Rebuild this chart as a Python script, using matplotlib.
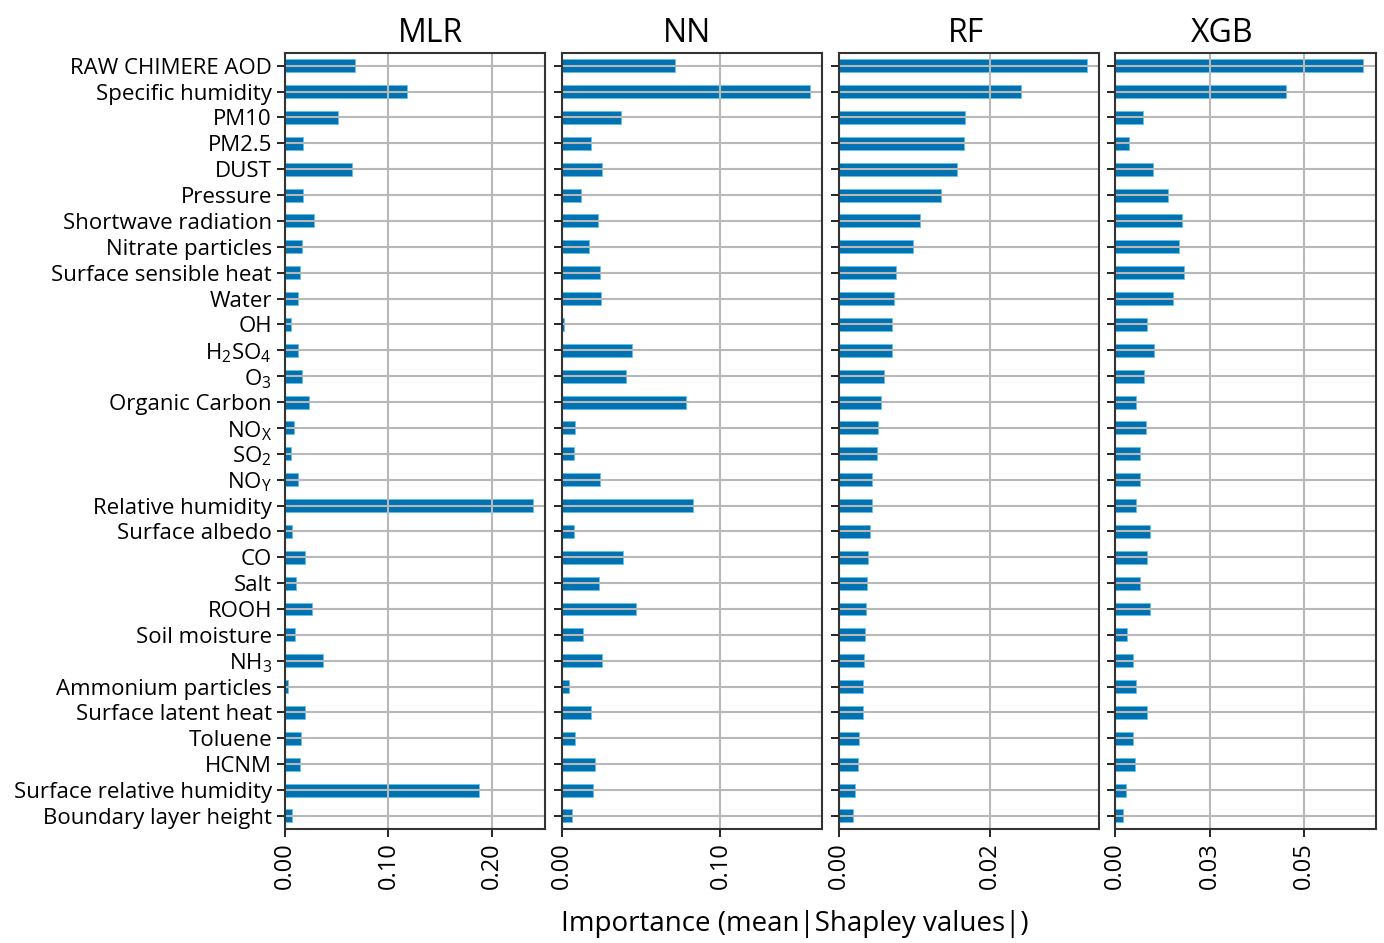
import matplotlib
matplotlib.use("Agg")
import matplotlib.pyplot as plt
from matplotlib.ticker import FormatStrFormatter

plt.rcParams['font.family'] = ['Open Sans', 'DejaVu Sans']
plt.rcParams['mathtext.fontset'] = 'custom'
plt.rcParams['mathtext.rm'] = 'Open Sans'
plt.rcParams['mathtext.it'] = 'Open Sans'

features = ["RAW CHIMERE AOD", "Specific humidity", "PM10", "PM2.5", "DUST",
            "Pressure", "Shortwave radiation", "Nitrate particles",
            "Surface sensible heat", "Water", "OH", "H$_2$SO$_4$", "O$_3$",
            "Organic Carbon", r"NO$_\mathrm{X}$", "SO$_2$", r"NO$_\mathrm{Y}$",
            "Relative humidity", "Surface albedo", "CO", "Salt", "ROOH",
            "Soil moisture", "NH$_3$", "Ammonium particles", "Surface latent heat",
            "Toluene", "HCNM", "Surface relative humidity", "Boundary layer height"]

mlr = [0.0676, 0.118, 0.0508, 0.0175, 0.0644, 0.0175, 0.0275, 0.0168, 0.0149, 0.0129,
       0.0055, 0.0120, 0.0162, 0.0236, 0.0087, 0.0055, 0.0123, 0.240, 0.0068, 0.0191,
       0.0110, 0.0256, 0.0094, 0.0362, 0.0026, 0.0191, 0.0152, 0.0149, 0.188, 0.0068]
nn = [0.0716, 0.1564, 0.0371, 0.0187, 0.0251, 0.0120, 0.0225, 0.0171, 0.0238, 0.0248,
      0.0013, 0.0440, 0.0406, 0.0783, 0.0084, 0.0076, 0.0240, 0.0825, 0.0074, 0.0387,
      0.0232, 0.0465, 0.0135, 0.0251, 0.0046, 0.0187, 0.0086, 0.0211, 0.0198, 0.0065]
rf = [0.0327, 0.0241, 0.0167, 0.0166, 0.0156, 0.01355, 0.0107, 0.0098, 0.00755, 0.0073,
      0.0071, 0.0071, 0.0060, 0.00565, 0.00525, 0.0050, 0.0044, 0.0044, 0.0042, 0.00384,
      0.0038, 0.0036, 0.0035, 0.0033, 0.00327, 0.00327, 0.00274, 0.00256, 0.0022, 0.00185]
xgb = [0.0658, 0.0453, 0.00736, 0.0037, 0.0099, 0.0140, 0.0176, 0.0169, 0.01835, 0.01525,
       0.0085, 0.0103, 0.0077, 0.0054, 0.0081, 0.0066, 0.0066, 0.0056, 0.0092, 0.0084,
       0.0066, 0.0092, 0.0031, 0.0048, 0.0056, 0.0085, 0.0048, 0.0052, 0.0027, 0.0020]

models = ["MLR", "NN", "RF", "XGB"]
values = [mlr, nn, rf, xgb]
xticks = [[0, 0.1, 0.2], [0, 0.1], [0, 0.02], [0, 0.025, 0.05]]
title_x = [0.56, 0.48, 0.49, 0.41]

fig, axes = plt.subplots(1, 4, figsize=(13.84, 9.43), dpi=100)
fig.subplots_adjust(left=0.206, right=0.994, top=0.944, bottom=0.121, wspace=0.063)

ypos = list(range(len(features)))
for i, ax in enumerate(axes):
    ax.barh(ypos, values[i], height=0.5, color='#0072b2', edgecolor='#5fc3ec', linewidth=0.6)
    ax.set_ylim(len(features) - 0.5, -0.5)
    ax.set_yticks(ypos)
    if i == 0:
        ax.set_yticklabels(features, fontsize=16)
    else:
        ax.set_yticklabels([])
    ax.set_xticks(xticks[i])
    ax.xaxis.set_major_formatter(FormatStrFormatter('%.2f'))
    ax.tick_params(axis='x', labelrotation=90, labelsize=17, length=6, width=1.2)
    ax.tick_params(axis='y', length=6, width=1.2)
    ax.grid(True, color='#b8b8b8', linewidth=1.5)
    for s in ax.spines.values():
        s.set_color('#333333')
        s.set_linewidth(1.5)
    ax.set_title(models[i], fontsize=23, pad=8, x=title_x[i])

fig.text(0.574, 0.02, "Importance (mean|Shapley values|)", fontsize=20,
         ha='center', va='center')

fig.savefig("out.png", dpi=100)
